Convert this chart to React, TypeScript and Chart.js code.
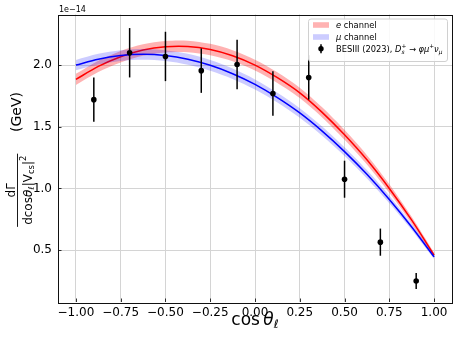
import React, { useEffect, useRef } from "react";
import { Chart, registerables } from "chart.js";

Chart.register(...registerables);

// ---- data (values in units of 1e-14 GeV) ----
const curveX = [-1, -0.875, -0.75, -0.625, -0.5, -0.375, -0.25, -0.125, 0, 0.125, 0.25, 0.375, 0.5, 0.625, 0.75, 0.875, 1];
const eChannel = [1.884, 1.989, 2.068, 2.122, 2.149, 2.151, 2.126, 2.076, 2.0, 1.898, 1.775, 1.617, 1.435, 1.232, 1.0, 0.743, 0.46];
const eBandHalf = [0.045, 0.046, 0.047, 0.047, 0.047, 0.047, 0.046, 0.045, 0.044, 0.043, 0.042, 0.041, 0.04, 0.038, 0.035, 0.028, 0.02];
const muChannel = [2.0, 2.048, 2.077, 2.087, 2.077, 2.047, 1.998, 1.93, 1.843, 1.736, 1.612, 1.465, 1.299, 1.115, 0.911, 0.688, 0.446];
const muBandHalf = [0.042, 0.043, 0.044, 0.044, 0.044, 0.044, 0.043, 0.042, 0.041, 0.04, 0.039, 0.038, 0.036, 0.034, 0.031, 0.025, 0.018];
const besX = [-0.9, -0.7, -0.5, -0.3, -0.1, 0.1, 0.3, 0.5, 0.7, 0.9];
const besY = [1.72, 2.1, 2.07, 1.955, 2.005, 1.77, 1.9, 1.075, 0.565, 0.25];
const besErr = [0.18, 0.2, 0.2, 0.18, 0.2, 0.18, 0.18, 0.15, 0.11, 0.065];
const xTicks = [-1, -0.75, -0.5, -0.25, 0, 0.25, 0.5, 0.75, 1];
const yTicks = [0.5, 1.0, 1.5, 2.0];

const FONT = '"DejaVu Sans"';

type Seg = { t: string; it?: boolean; sc?: number; dy?: number; stack?: boolean };

function segFont(s: Seg, size: number) {
  return `${s.it ? "italic " : ""}${size * (s.sc || 1)}px ${FONT}`;
}

function richWidth(ctx: CanvasRenderingContext2D, segs: Seg[], size: number) {
  let w = 0;
  let stackW = 0;
  for (const s of segs) {
    ctx.font = segFont(s, size);
    const m = ctx.measureText(s.t).width;
    if (s.stack) {
      stackW = m;
    } else {
      w += Math.max(m, stackW);
      stackW = 0;
    }
  }
  return w + stackW;
}

function drawRich(ctx: CanvasRenderingContext2D, segs: Seg[], size: number, x: number, y: number, align: "left" | "center") {
  const w = richWidth(ctx, segs, size);
  let cx = align === "center" ? x - w / 2 : x;
  let stackW = 0;
  ctx.textBaseline = "alphabetic";
  ctx.textAlign = "left";
  for (const s of segs) {
    ctx.font = segFont(s, size);
    const m = ctx.measureText(s.t).width;
    ctx.fillText(s.t, cx, y + (s.dy || 0) * size);
    if (s.stack) {
      stackW = m;
    } else {
      cx += Math.max(m, stackW);
      stackW = 0;
    }
  }
  return w;
}

const fmt = (v: number, d: number) => v.toFixed(d).replace("-", "\u2212");

const decor = {
  id: "decor",
  afterDatasetsDraw(chart: any) {
    const ctx: CanvasRenderingContext2D = chart.ctx;
    const xs = chart.scales.x;
    const ys = chart.scales.y;
    ctx.save();
    ctx.strokeStyle = "#000";
    ctx.lineWidth = 1.5;
    besX.forEach((x, i) => {
      const px = xs.getPixelForValue(x);
      ctx.beginPath();
      ctx.moveTo(px, ys.getPixelForValue(besY[i] + besErr[i]));
      ctx.lineTo(px, ys.getPixelForValue(besY[i] - besErr[i]));
      ctx.stroke();
    });
    ctx.restore();
  },
  afterDraw(chart: any) {
    const ctx: CanvasRenderingContext2D = chart.ctx;
    const a = chart.chartArea;
    const xs = chart.scales.x;
    const ys = chart.scales.y;
    ctx.save();
    // inward ticks
    ctx.strokeStyle = "#000";
    ctx.lineWidth = 0.8;
    xTicks.forEach((v) => {
      const px = Math.round(xs.getPixelForValue(v)) + 0.5;
      ctx.beginPath();
      ctx.moveTo(px, a.bottom);
      ctx.lineTo(px, a.bottom - 3.5);
      ctx.stroke();
    });
    yTicks.forEach((v) => {
      const py = Math.round(ys.getPixelForValue(v)) + 0.5;
      ctx.beginPath();
      ctx.moveTo(a.left, py);
      ctx.lineTo(a.left + 3.5, py);
      ctx.stroke();
    });
    // frame
    ctx.lineWidth = 1;
    ctx.strokeStyle = "#111";
    ctx.strokeRect(Math.round(a.left) + 0.5, Math.round(a.top) + 0.5, Math.round(a.right - a.left), Math.round(a.bottom - a.top));

    ctx.fillStyle = "#000";
    // offset text
    ctx.font = `8px ${FONT}`;
    ctx.textAlign = "left";
    ctx.textBaseline = "alphabetic";
    ctx.fillText("1e\u221214", a.left + 1, 12);

    // x label
    drawRich(ctx, [{ t: "cos" }, { t: "\u2009" }, { t: "\u03b8", it: true }, { t: "\u2113", it: true, sc: 0.7, dy: 0.2 }], 17, (a.left + a.right) / 2, 325, "center");

    // y label (rotated)
    const cy = (a.top + a.bottom) / 2;
    ctx.save();
    ctx.translate(21, 112);
    ctx.rotate(-Math.PI / 2);
    drawRich(ctx, [{ t: "(GeV)" }], 14, 0, 0, "center");
    ctx.restore();
    const den: Seg[] = [
      { t: "dcos" },
      { t: "\u03b8", it: true },
      { t: "\u2113", it: true, sc: 0.7, dy: 0.2 },
      { t: "|V" },
      { t: "cs", sc: 0.7, dy: 0.2 },
      { t: "|" },
      { t: "2", sc: 0.7, dy: -0.45 },
    ];
    const fy = cy + 32;
    ctx.save();
    ctx.translate(15, fy);
    ctx.rotate(-Math.PI / 2);
    drawRich(ctx, [{ t: "d\u0393" }], 12, 0, 0, "center");
    ctx.restore();
    ctx.save();
    ctx.translate(31.5, fy);
    ctx.rotate(-Math.PI / 2);
    const dw = drawRich(ctx, den, 12, 0, 0, "center");
    ctx.restore();
    ctx.fillRect(17, fy - dw / 2 - 2, 0.9, dw + 4);

    // legend
    const lx = 308, ly = 18.5, lw = 139, lh = 42.5;
    ctx.beginPath();
    (ctx as any).roundRect(lx + 0.5, ly + 0.5, lw, lh, 2.5);
    ctx.fillStyle = "rgba(255,255,255,0.85)";
    ctx.fill();
    ctx.strokeStyle = "#d0d0d0";
    ctx.lineWidth = 1;
    ctx.stroke();
    const rows = [25, 37, 48.7];
    ctx.fillStyle = "rgba(255,0,0,0.3)";
    ctx.fillRect(313, rows[0] - 2.8, 16, 5.6);
    ctx.fillStyle = "rgba(0,0,255,0.2)";
    ctx.fillRect(313, rows[1] - 2.8, 16, 5.6);
    ctx.strokeStyle = "#000";
    ctx.lineWidth = 1.5;
    ctx.beginPath();
    ctx.moveTo(321, rows[2] - 4.5);
    ctx.lineTo(321, rows[2] + 4.5);
    ctx.stroke();
    ctx.fillStyle = "#000";
    ctx.beginPath();
    ctx.arc(321, rows[2], 2.7, 0, Math.PI * 2);
    ctx.fill();
    const tx = 336;
    const ls = 8.3;
    drawRich(ctx, [{ t: "e", it: true }, { t: " channel" }], ls, tx, rows[0] + 3, "left");
    drawRich(ctx, [{ t: "\u03bc", it: true }, { t: " channel" }], ls, tx, rows[1] + 3, "left");
    drawRich(
      ctx,
      [
        { t: "BESIII (2023), " },
        { t: "D", it: true },
        { t: "s", it: true, sc: 0.7, dy: 0.25, stack: true },
        { t: "+", sc: 0.7, dy: -0.4 },
        { t: " \u2192 " },
        { t: "\u03c6\u03bc", it: true },
        { t: "+", sc: 0.7, dy: -0.4 },
        { t: "\u03bd", it: true },
        { t: "\u03bc", it: true, sc: 0.7, dy: 0.25 },
      ],
      ls,
      tx,
      rows[2] + 3,
      "left"
    );
    ctx.restore();
  },
};

export default function App() {
  const ref = useRef<HTMLCanvasElement | null>(null);
  useEffect(() => {
    if (!ref.current) return;
    const pts = (ys: number[], off?: number[], sign = 0) =>
      curveX.map((x, i) => ({ x, y: ys[i] + (off ? sign * off[i] : 0) }));
    const lineBase = { pointRadius: 0, tension: 0.3, showLine: true };
    const chart = new Chart(ref.current, {
      type: "line",
      data: {
        datasets: [
          { ...lineBase, label: "eUp", data: pts(eChannel, eBandHalf, 1), borderWidth: 0, borderColor: "rgba(0,0,0,0)", fill: false, order: 8 },
          { ...lineBase, label: "eLo", data: pts(eChannel, eBandHalf, -1), borderWidth: 0, borderColor: "rgba(0,0,0,0)", fill: "-1", backgroundColor: "rgba(255,0,0,0.3)", order: 7 },
          { ...lineBase, label: "e channel", data: pts(eChannel), borderWidth: 1.5, borderColor: "#ff0000", fill: false, order: 6 },
          { ...lineBase, label: "muUp", data: pts(muChannel, muBandHalf, 1), borderWidth: 0, borderColor: "rgba(0,0,0,0)", fill: false, order: 5 },
          { ...lineBase, label: "muLo", data: pts(muChannel, muBandHalf, -1), borderWidth: 0, borderColor: "rgba(0,0,0,0)", fill: "-1", backgroundColor: "rgba(0,0,255,0.2)", order: 4 },
          { ...lineBase, label: "mu channel", data: pts(muChannel), borderWidth: 1.5, borderColor: "#0000ff", fill: false, order: 3 },
          {
            type: "scatter",
            label: "BESIII",
            data: besX.map((x, i) => ({ x, y: besY[i] })),
            pointRadius: 2.8,
            pointBackgroundColor: "#000",
            pointBorderWidth: 0,
            showLine: false,
            order: 1,
          } as any,
        ],
      },
      options: {
        animation: false,
        responsive: false,
        devicePixelRatio: 1,
        layout: { padding: { top: 14.5, right: 6, left: 0, bottom: 0 } },
        plugins: { legend: { display: false }, tooltip: { enabled: false } },
        events: [],
        scales: {
          x: {
            type: "linear",
            min: -1.1,
            max: 1.1,
            afterBuildTicks: (s: any) => {
              s.ticks = xTicks.map((v) => ({ value: v }));
            },
            afterFit: (s: any) => {
              s.height = 40;
            },
            grid: { color: "#d4d4d4", lineWidth: 1, drawTicks: false },
            border: { display: false },
            ticks: {
              padding: 4,
              color: "#000",
              autoSkip: false,
              maxRotation: 0,
              font: { family: "DejaVu Sans", size: 12 },
              callback: (v: any) => fmt(Number(v), 2),
            },
          },
          y: {
            type: "linear",
            min: 0.08,
            max: 2.41,
            afterBuildTicks: (s: any) => {
              s.ticks = yTicks.map((v) => ({ value: v }));
            },
            afterFit: (s: any) => {
              s.width = 58;
            },
            grid: { color: "#d4d4d4", lineWidth: 1, drawTicks: false },
            border: { display: false },
            ticks: {
              padding: 6,
              color: "#000",
              autoSkip: false,
              font: { family: "DejaVu Sans", size: 12 },
              callback: (v: any) => fmt(Number(v), 1),
            },
          },
        },
      },
      plugins: [decor],
    } as any);
    return () => chart.destroy();
  }, []);
  return (
    <div style={{ position: "fixed", left: 0, top: 0, width: 458, height: 342, background: "#fff" }}>
      <canvas ref={ref} width={458} height={342} style={{ width: 458, height: 342, display: "block" }} />
    </div>
  );
}
